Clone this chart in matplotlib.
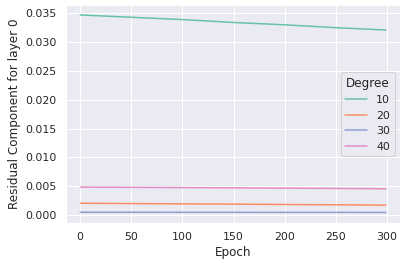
import numpy as np
import matplotlib
matplotlib.use("Agg")
import matplotlib.pyplot as plt
import seaborn as sns

# values at a handful of epochs
epochs = [0, 50, 100, 150, 200, 250, 299]
degrees = [10, 20, 30, 40]
res_10 = [0.0346, 0.0342, 0.0338, 0.0333, 0.0329, 0.0324, 0.0320]
res_20 = [0.0021, 0.00205, 0.00200, 0.00195, 0.00189, 0.00184, 0.00178]
res_30 = [0.00055, 0.00055, 0.00054, 0.00054, 0.00053, 0.00053, 0.00052]
res_40 = [0.0049, 0.00485, 0.00481, 0.00476, 0.00471, 0.00466, 0.00460]

sns.set_theme(style="darkgrid")
palette = sns.color_palette("Set2", 4)

fig = plt.figure(figsize=(407 / 72, 268 / 72), dpi=72)
ax = fig.add_axes([0.162, 0.168, 0.821, 0.813])

for deg, vals, col in zip(degrees, [res_10, res_20, res_30, res_40], palette):
    ax.plot(epochs, vals, color=col, lw=1.5, label=str(deg))

ax.set_xlabel("Epoch")
ax.set_ylabel("Residual Component for layer 0")
ax.set_xticks([0, 50, 100, 150, 200, 250, 300])
ax.set_yticks(np.arange(0, 0.0351, 0.005))
ax.set_ylim(-0.0013, 0.0363)
ax.set_xlim(-14, 313)
ax.legend(title="Degree", loc="center right")

fig.savefig("out.png", dpi=72)
